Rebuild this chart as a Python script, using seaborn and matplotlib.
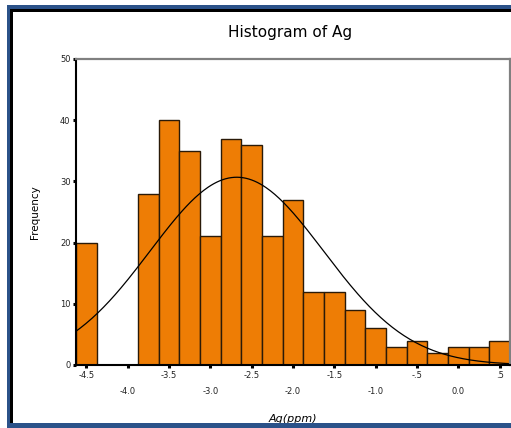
import numpy as np
import pandas as pd
import matplotlib
matplotlib.use("Agg")
import matplotlib.pyplot as plt
import seaborn as sns
from matplotlib.patches import Rectangle

# ---- data ----
bin_centers = [-4.5, -4.25, -4.0, -3.75, -3.5, -3.25, -3.0, -2.75, -2.5, -2.25,
               -2.0, -1.75, -1.5, -1.25, -1.0, -0.75, -0.5, -0.25, 0.0, 0.25, 0.5]
counts = [20, 0, 0, 28, 40, 35, 21, 37, 36, 21,
          27, 12, 12, 9, 6, 3, 4, 2, 3, 3, 4]
tick_values = [-4.5, -4.0, -3.5, -3.0, -2.5, -2.0, -1.5, -1.0, -0.5, 0.0, 0.5]
tick_labels = ["-4.5", "-4.0", "-3.5", "-3.0", "-2.5", "-2.0", "-1.5", "-1.0", "-.5", "0.0", ".5"]
y_ticks = [0, 10, 20, 30, 40, 50]
fit_mean = -2.68
fit_sd = 1.05
bin_width = 0.25

sns.set_theme(style="white")
plt.rcParams['font.family'] = ['DejaVu Sans']
plt.rcParams['text.color'] = 'black'
plt.rcParams['axes.labelcolor'] = 'black'

fig = plt.figure(figsize=(5.11, 4.28), dpi=100)
ax = fig.add_axes([76/511, 1-365/428, (510-76)/511, (365-59)/428])

df = pd.DataFrame({"x": bin_centers, "w": counts})
lo = bin_centers[0] - bin_width/2
hi = bin_centers[-1] + bin_width/2
sns.histplot(data=df, x="x", weights="w", binwidth=bin_width, binrange=(lo, hi), ax=ax,
             color="#ee7d05", alpha=1.0, edgecolor="#2a1a08", linewidth=1.0)

# fitted normal curve
N = sum(counts)
xs = np.linspace(lo, hi, 300)
pdf = np.exp(-0.5*((xs - fit_mean)/fit_sd)**2) / (fit_sd*np.sqrt(2*np.pi))
ax.plot(xs, pdf*N*bin_width, color="black", lw=0.9)

ax.set_xlim(lo, hi)
ax.set_ylim(0, 50)
ax.set_yticks(y_ticks)
ax.set_yticklabels([str(v) for v in y_ticks])
ax.set_xticks(tick_values)
ax.set_xticklabels([lab if i % 2 == 0 else "\n" + lab for i, lab in enumerate(tick_labels)],
                   linespacing=2.0)
ax.tick_params(axis="both", which="major", direction="out", length=2, width=2.2,
               color="black", labelsize=6, labelcolor="#222222", pad=2,
               left=True, bottom=True)
ax.set_ylabel("Frequency", fontsize=7.5, labelpad=14, color="black")
ax.set_xlabel("Ag(ppm)", fontsize=8, labelpad=13, style="italic", color="black")

for s in ["left", "bottom"]:
    ax.spines[s].set_color("black")
    ax.spines[s].set_linewidth(1.5)
for s in ["top", "right"]:
    ax.spines[s].set_color("#808080")
    ax.spines[s].set_linewidth(1.6)

fig.text(290/511, 1-33/428, "Histogram of Ag", ha="center", va="center", fontsize=11,
         color="black")

# outer frame: blue band and black inner line
blue = "#2b5289"
H, W = 428.0, 511.0
def rect(x, y, w, h, c):
    fig.patches.append(Rectangle((x/W, 1-(y+h)/H), w/W, h/H, transform=fig.transFigure,
                                 facecolor=c, edgecolor="none", zorder=10))
rect(7, 5, 504, 4, blue)      # top blue
rect(10, 9, 501, 3, "black")  # top black
rect(7, 5, 3, 423, blue)      # left blue
rect(10, 9, 3, 415, "black")  # left black
rect(7, 423, 504, 5, blue)    # bottom blue

fig.savefig("out.png", dpi=100, facecolor="white")
